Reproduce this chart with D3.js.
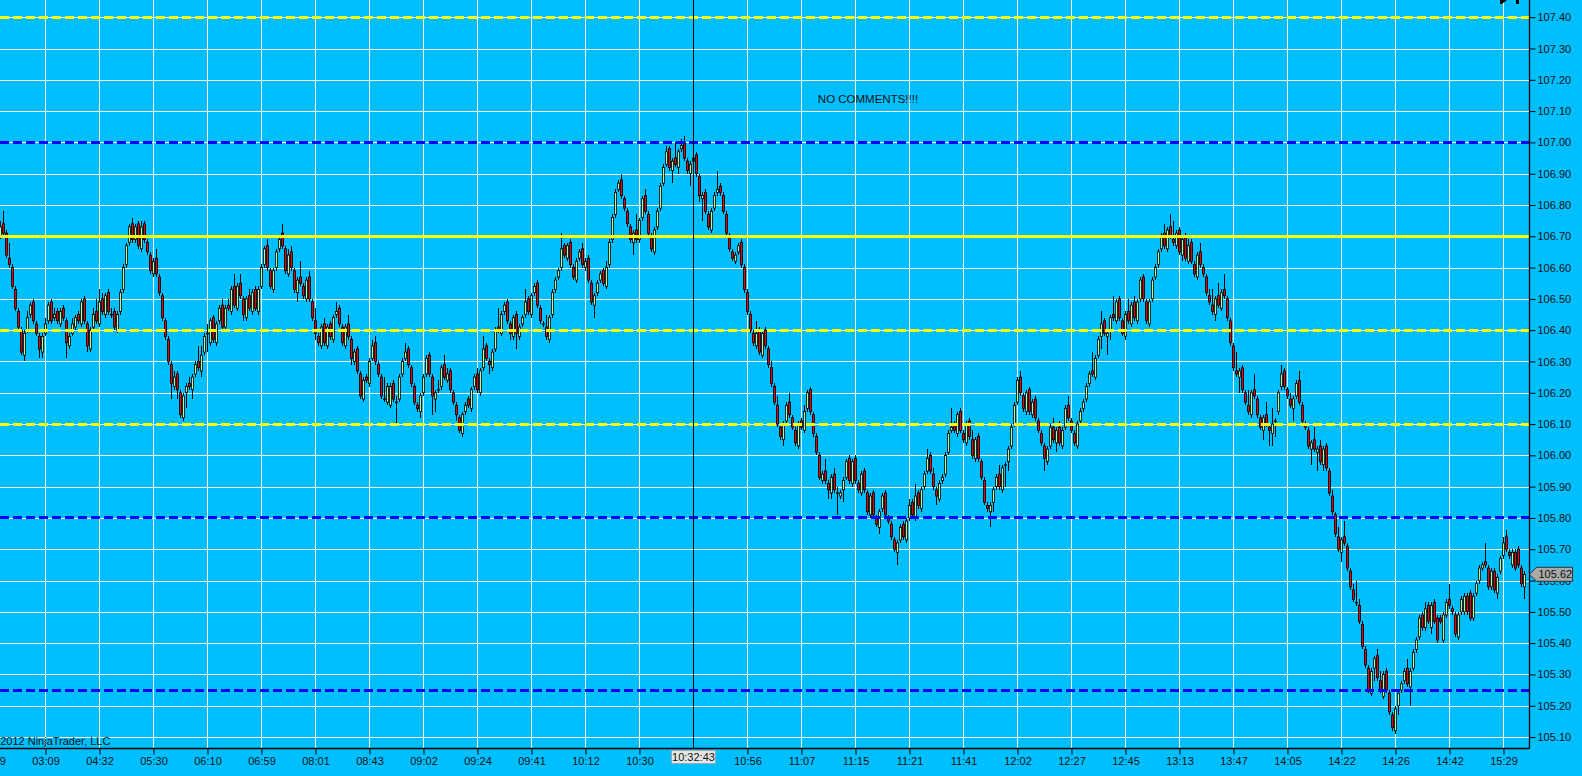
<!DOCTYPE html>
<html>
<head>
<meta charset="utf-8">
<script src="https://cdn.jsdelivr.net/npm/d3@7"></script>
<style>
  html, body { margin: 0; padding: 0; background: #00bfff; overflow: hidden; }
  svg { display: block; }
  text { font-family: Arial, "Liberation Sans", sans-serif; }
</style>
</head>
<body>
<svg id="chart" width="1582" height="776"></svg>
<script>
// bar values, in cents above 105.00 (one bar every 3px)
const openC = [
  170,174,171,163,160,153,146,140,132,140, 145,149,142,138,133,139,143,149,144,146,
  142,147,143,135,139,141,145,142,150,142, 134,141,146,142,150,145,152,145,146,140,
  146,153,161,168,174,169,174,166,174,168, 164,158,163,157,151,143,137,129,122,126,
  120,112,120,123,121,126,130,127,133,139, 136,144,136,143,148,141,148,146,154,147,
  155,150,144,151,146,153,146,154,161,167, 159,153,160,166,171,166,158,165,159,152,
  157,154,150,157,149,143,138,135,142,135, 142,137,145,147,141,135,142,137,130,134,
  126,118,125,123,131,136,129,125,118,117, 116,123,117,118,126,131,134,128,122,116,
  114,120,126,132,125,118,121,122,129,124, 127,120,116,112,107,114,118,115,122,126,
  120,128,135,130,128,134,141,139,146,149, 142,138,145,138,142,145,150,145,152,155,
  147,142,141,137,145,153,157,160,167,163, 168,160,156,163,166,160,163,155,148,152,
  156,159,154,161,169,177,185,188,182,178, 173,168,172,169,176,183,177,170,165,173,
  179,187,193,198,191,195,192,198,200,194, 190,194,196,189,182,184,177,172,179,184,
  186,183,177,170,165,162,165,168,160,152, 145,139,135,140,132,140,134,128,122,116,
  109,105,111,117,112,108,103,111,108,115, 121,113,106,100,92,95,91,88,94,88,
  87,89,93,99,91,99,91,88,95,88, 81,88,80,77,83,88,80,78,73,69,
  73,78,73,80,85,80,88,83,90,95, 100,94,89,86,92,94,101,108,110,107,
  114,107,104,111,105,99,106,98,92,84, 82,85,90,94,89,97,98,103,110,117,
  125,119,114,121,113,118,111,107,103,98, 103,109,104,109,103,109,116,111,107,103,
  111,115,118,123,127,125,132,138,143,138, 140,145,143,150,143,138,146,142,149,143,
  150,157,149,142,150,157,161,166,171,166, 173,169,167,172,164,170,162,168,161,157,
  165,160,157,151,148,145,151,147,153,150, 143,135,127,125,128,120,116,113,121,118,
  112,108,113,109,107,111,114,122,127,121, 118,115,119,124,116,110,108,102,105,101,
  103,97,103,95,87,81,74,69,74,71, 63,57,53,52,46,38,32,24,32,36,
  28,23,31,24,17,12,20,25,28,32, 26,32,38,42,49,45,52,45,53,48,
  48,41,49,54,51,49,42,50,50,55, 56,48,56,60,64,66,64,58,63,56,
  63,68,74,69,65,69,70,64,58
];
const closeC = [
  173,171,164,161,154,147,141,133,139,144, 148,143,139,134,138,142,148,143,145,143,
  146,144,136,138,142,144,143,149,143,135, 140,145,143,149,146,151,146,145,141,145,
  152,160,167,173,169,173,167,173,169,165, 159,162,158,152,144,138,130,123,125,121,
  113,119,122,122,125,129,128,132,138,139, 143,137,142,147,141,147,147,153,148,154,
  151,145,150,147,152,147,153,160,166,160, 154,159,165,169,167,159,164,160,153,156,
  155,151,156,150,144,139,136,141,136,141, 138,144,146,142,136,141,138,131,133,127,
  119,124,124,130,135,130,126,119,118,122, 122,118,117,125,130,133,129,123,117,115,
  119,125,131,126,119,120,121,128,125,126, 121,117,113,108,113,116,116,121,125,121,
  127,134,131,129,133,140,140,145,148,143, 139,144,139,141,144,149,146,151,154,148,
  143,142,138,144,152,156,159,166,164,167, 161,157,162,165,161,162,156,149,151,155,
  158,155,160,168,176,184,187,183,179,174, 169,171,169,175,182,178,171,166,172,178,
  186,192,197,192,194,193,197,199,195,191, 193,195,190,183,183,178,173,178,183,185,
  184,178,171,166,163,164,167,161,153,146, 140,136,139,133,139,135,129,123,117,110,
  106,110,116,113,109,104,110,109,114,120, 114,107,101,93,94,92,89,93,89,88,
  88,92,98,92,98,92,89,94,89,82, 87,81,78,82,87,81,79,74,70,72,
  77,74,79,84,81,87,84,89,94,99, 95,90,87,91,93,100,107,109,108,113,
  108,105,110,106,100,105,99,93,85,83, 84,89,93,90,96,97,102,109,116,124,
  120,115,120,114,117,112,108,104,99,102, 109,105,108,104,108,115,112,108,104,110,
  114,117,122,126,126,131,137,142,139,139, 144,144,149,144,139,145,143,148,144,149,
  156,150,143,149,156,160,165,170,167,172, 170,168,171,165,169,163,167,162,158,164,
  161,158,152,149,146,150,148,152,151,144, 136,128,126,127,121,117,114,120,119,113,
  109,112,110,108,110,111,120,126,122,119, 116,118,123,117,111,109,103,104,102,102,
  98,102,96,88,82,75,70,73,72,64, 58,54,53,47,39,33,25,31,35,29,
  25,30,25,18,13,19,24,27,31,27, 31,37,41,48,45,51,47,52,47,41,
  47,49,53,52,50,43,49,54,55,50, 48,55,59,64,65,65,58,63,57,61,
  67,72,70,68,69,64,65,59,62
];
// wick length above / below the body, in cents
const wickHi = [
  2,4,1,5,1,1,1,1,1,2, 1,1,1,1,1,2,1,1,2,1, 1,1,1,1,2,1,1,1,1,1, 1,2,4,4,2,1,1,2,1,1,
  1,1,1,1,2,1,1,2,1,1, 1,1,3,1,1,1,1,1,2,1, 1,1,1,2,1,1,5,3,1,3, 1,1,1,1,2,1,2,1,4,1,
  3,1,1,2,1,1,1,1,1,2, 1,1,1,1,3,1,2,2,1,1, 5,1,1,2,1,4,1,1,2,1, 1,1,3,1,1,1,3,1,1,1,
  1,1,1,1,2,2,1,1,7,1, 1,1,2,1,1,3,1,1,1,1, 1,1,1,1,1,1,3,1,3,2, 1,1,1,1,1,1,1,1,1,2,
  1,4,1,1,1,1,6,1,1,1, 1,1,1,1,1,4,1,1,1,1, 1,1,4,1,1,1,1,5,1,1, 1,1,1,1,2,1,1,1,1,1,
  1,1,2,1,1,1,1,2,1,1, 1,1,5,1,1,2,1,1,1,1, 1,1,2,1,1,5,1,2,2,1, 1,1,1,1,1,1,1,1,1,6,
  1,1,1,1,1,1,1,1,1,1, 1,1,4,1,1,1,1,2,1,3, 1,1,1,3,1,1,1,1,2,1, 1,1,1,1,1,4,1,1,2,2,
  1,1,1,1,1,1,1,1,1,1, 1,1,1,1,1,1,1,1,1,1, 1,1,1,2,1,4,1,1,1,3, 1,2,1,1,1,1,1,6,1,1,
  1,1,1,1,3,1,1,1,1,1, 1,1,1,3,1,1,1,1,1,1, 2,1,1,1,1,1,1,1,1,1, 1,3,1,2,1,1,3,1,1,1,
  1,1,1,1,6,1,1,4,1,1, 1,6,1,1,1,1,4,1,2,1, 1,1,1,1,1,1,1,1,3,1, 4,6,1,1,1,1,2,1,1,1,
  3,1,1,2,5,1,4,1,5,1, 1,1,6,1,1,1,5,1,5,1, 1,1,4,1,5,1,1,3,1,1, 2,1,1,3,1,1,1,1,4,1,
  2,1,1,1,2,1,3,1,5,1, 1,2,7,2,1,1,1,1,1,2, 3,1,1,1,1,1,1,1,1,3, 1,1,1,1,1,2,1,1,1,1,
  1,1,1,5,1,1,1,1,1,1, 1,1,1,1,1,6,1,1,1,1, 1,2,2,1,1,1,1,1,1
];
const wickLo = [
  1,1,1,1,1,1,1,1,2,1, 1,1,1,3,2,1,1,1,1,1, 1,1,5,1,1,1,1,1,1,2, 1,1,1,1,1,1,1,1,1,1,
  1,1,1,1,1,1,1,1,1,1, 1,1,1,1,1,1,1,5,1,3, 1,1,5,1,3,1,1,2,1,6, 1,1,1,1,1,1,1,1,1,1,
  1,2,1,1,1,1,1,1,1,1, 1,1,1,1,1,1,1,1,1,3, 1,1,1,1,1,2,1,1,1,1, 1,1,1,1,1,1,1,2,1,1,
  1,1,1,1,1,1,1,1,1,1, 1,1,7,1,1,1,1,1,1,1, 2,1,1,1,6,4,1,1,1,1, 1,1,2,1,1,1,1,1,1,1,
  1,1,1,3,1,1,1,1,1,1, 2,1,5,1,1,1,1,1,1,1, 1,1,1,1,1,1,1,1,1,1, 1,1,1,1,1,1,1,1,4,1,
  1,1,1,1,1,1,1,1,1,1, 1,4,1,1,1,1,1,1,1,1, 1,1,1,1,4,1,2,1,1,1, 4,1,1,2,7,1,1,1,1,1,
  1,1,1,1,1,1,1,1,1,1, 1,1,1,1,1,1,1,1,1,1, 1,2,1,1,1,1,1,1,1,1, 1,1,1,1,1,1,3,2,1,7,
  1,4,1,1,1,1,1,1,1,1, 1,1,1,2,1,1,1,1,1,4, 1,1,1,1,1,1,1,1,1,1, 1,1,3,1,1,1,1,1,1,1,
  1,1,1,1,1,1,1,1,1,1, 5,3,1,1,1,7,3,1,1,1, 1,1,1,1,1,1,1,1,4,1, 1,1,3,1,1,1,1,1,1,1,
  1,1,1,1,1,1,1,4,1,6, 3,1,1,1,1,1,1,1,1,1, 1,1,1,1,1,1,1,1,1,1, 1,1,1,1,2,1,1,1,1,1,
  1,1,1,1,1,2,1,1,1,1, 1,1,1,5,1,1,1,1,1,1, 1,3,1,5,4,5,1,1,1,1, 1,4,1,1,1,1,1,5,1,6,
  1,2,1,1,1,1,1,3,1,1, 1,1,1,1,1,1,1,1,4,1, 1,1,1,1,1,1,3,1,1,1, 6,1,1,1,1,1,1,2,1,1,
  1,1,1,1,1,1,1,1,1,1, 1,1,1,1,1,1,1,1,1,2, 1,1,1,1,1,1,1,1,4
];

const timeLabels = ["01:49","03:09","04:32","05:30","06:10","06:59","08:01","08:43","09:02","09:24",
  "09:41","10:12","10:30","10:56","11:07","11:15","11:21","11:41","12:02","12:27",
  "12:45","13:13","13:47","14:05","14:22","14:26","14:42","15:29"];
const timeLabelBars = [-3,15,33,51,69,87,105,123,141,159,177,195,213,249,267,285,303,321,339,357,
  375,393,411,429,447,465,483,501];
const gridBars = [15,33,51,69,87,105,123,141,159,177,195,213,231,249,267,285,303,321,339,357,
  375,393,411,429,447,465,483,501];

const priceTicks = [105.10,105.20,105.30,105.40,105.50,105.60,105.70,105.80,105.90,106.00,
  106.10,106.20,106.30,106.40,106.50,106.60,106.70,106.80,106.90,107.00,107.10,107.20,107.30,107.40];

const yellowDashLevels = [107.40, 106.40, 106.10];
const blueDashLevels = [107.00, 105.80, 105.25];
const yellowSolidLevels = [106.70];

const lastPrice = 105.62;
const crosshairBar = 231;
const crosshairLabel = "10:32:43";
const note = "NO COMMENTS!!!!";
const copyright = "\u00a9 2012 NinjaTrader, LLC";

const bars = closeC.map((c, i) => {
  const o = openC[i];
  return {
    i: i,
    open: 105 + o / 100,
    close: 105 + c / 100,
    high: 105 + (Math.max(o, c) + wickHi[i]) / 100,
    low: 105 + (Math.min(o, c) - wickLo[i]) / 100
  };
});

const svg = d3.select("#chart");
const W = 1582, H = 776;
const plotRight = 1529.5, plotBottom = 748.5;

const x = d3.scaleLinear().domain([0, 1]).range([0.5, 3.5]);
const y = d3.scaleLinear().domain([105.065, 107.455]).range([748, 0]);

svg.append("rect").attr("width", W).attr("height", H).attr("fill", "#00bfff");

// grid
const grid = svg.append("g").attr("stroke", "#ffffff").attr("stroke-width", 1)
  .attr("shape-rendering", "crispEdges");
grid.selectAll(".hg").data(priceTicks).enter().append("line")
  .attr("x1", 0).attr("x2", plotRight)
  .attr("y1", d => Math.round(y(d)) + 0.5).attr("y2", d => Math.round(y(d)) + 0.5);
grid.selectAll(".vg").data(gridBars).enter().append("line")
  .attr("x1", d => x(d)).attr("x2", d => x(d))
  .attr("y1", 0).attr("y2", plotBottom);

// candles
const candles = svg.append("g");
candles.selectAll(".wick").data(bars).enter().append("line")
  .attr("x1", d => x(d.i)).attr("x2", d => x(d.i))
  .attr("y1", d => y(d.high)).attr("y2", d => y(d.low))
  .attr("stroke", "#000").attr("stroke-width", 1).attr("shape-rendering", "crispEdges");
candles.selectAll(".body").data(bars).enter().append("rect")
  .attr("x", d => x(d.i) - 1.1)
  .attr("width", 2.2)
  .attr("y", d => y(Math.max(d.open, d.close)))
  .attr("height", d => Math.max(Math.abs(y(d.open) - y(d.close)), 0.6))
  .attr("fill", d => d.close >= d.open ? "#b4f7a4" : "#ee0000")
  .attr("stroke", "#000").attr("stroke-width", 0.8);

// horizontal levels
const levels = svg.append("g").attr("shape-rendering", "crispEdges");
levels.selectAll(".yd").data(yellowDashLevels).enter().append("line")
  .attr("x1", 0).attr("x2", plotRight)
  .attr("y1", d => y(d)).attr("y2", d => y(d))
  .attr("stroke", "#ffff00").attr("stroke-width", 3).attr("stroke-dasharray", "9,4");
levels.selectAll(".bd").data(blueDashLevels).enter().append("line")
  .attr("x1", 0).attr("x2", plotRight)
  .attr("y1", d => y(d)).attr("y2", d => y(d))
  .attr("stroke", "#0000ff").attr("stroke-width", 3).attr("stroke-dasharray", "9,4");
levels.selectAll(".ys").data(yellowSolidLevels).enter().append("line")
  .attr("x1", 0).attr("x2", plotRight)
  .attr("y1", d => y(d)).attr("y2", d => y(d))
  .attr("stroke", "#ffff00").attr("stroke-width", 3);

// crosshair
svg.append("line")
  .attr("x1", x(crosshairBar)).attr("x2", x(crosshairBar))
  .attr("y1", 0).attr("y2", plotBottom)
  .attr("stroke", "#000").attr("stroke-width", 1).attr("shape-rendering", "crispEdges");

// axes
const xAxis = svg.append("g")
  .attr("transform", `translate(0,${plotBottom})`)
  .call(d3.axisBottom(x).tickValues(timeLabelBars).tickFormat((d, i) => timeLabels[i]).tickSize(6).tickSizeOuter(0));
xAxis.select(".domain").remove();
xAxis.selectAll("text").attr("font-size", 11).attr("fill", "#111").attr("dy", "0.77em").attr("y", 8);
xAxis.selectAll("line").attr("stroke", "#000");

svg.append("line").attr("x1", 0).attr("x2", plotRight).attr("y1", plotBottom).attr("y2", plotBottom)
  .attr("stroke", "#000").attr("stroke-width", 1.3);

const yAxis = svg.append("g")
  .attr("transform", `translate(${plotRight},0)`)
  .call(d3.axisRight(y).tickValues(priceTicks).tickFormat(d3.format(".2f")).tickSize(6).tickSizeOuter(0));
yAxis.select(".domain").remove();
yAxis.selectAll("text").attr("font-size", 11).attr("fill", "#111").attr("x", 8);
yAxis.selectAll("line").attr("stroke", "#000");
svg.append("line").attr("x1", plotRight).attr("x2", plotRight).attr("y1", 0).attr("y2", plotBottom)
  .attr("stroke", "#000").attr("stroke-width", 1.3);

// crosshair time label
const chx = x(crosshairBar);
svg.append("rect").attr("x", chx - 22).attr("y", plotBottom + 2).attr("width", 44).attr("height", 13)
  .attr("fill", "#e6e6e6").attr("stroke", "#9a9a9a").attr("stroke-width", 0.6);
svg.append("text").attr("x", chx).attr("y", plotBottom + 12.5).attr("text-anchor", "middle")
  .attr("font-size", 11).attr("fill", "#111").text(crosshairLabel);

// last price marker
const ly = y(lastPrice);
svg.append("path")
  .attr("d", `M${plotRight},${ly} L${plotRight + 7},${ly - 7} L${plotRight + 43},${ly - 7} L${plotRight + 43},${ly + 7} L${plotRight + 7},${ly + 7} Z`)
  .attr("fill", "#a9a9a9").attr("stroke", "#303030").attr("stroke-width", 1);
svg.append("text").attr("x", plotRight + 9).attr("y", ly + 4).attr("font-size", 11).attr("fill", "#111")
  .text(d3.format(".2f")(lastPrice));

// note and copyright
svg.append("text").attr("x", 868).attr("y", 103).attr("text-anchor", "middle")
  .attr("font-size", 11.5).attr("fill", "#111").text(note);
svg.append("text").attr("x", -11).attr("y", 745).attr("font-size", 11).attr("fill", "#111").text(copyright);

// little toolbar glyph at top right
svg.append("path").attr("d", "M1500,0 L1507,0 L1502,4 L1500,4 Z").attr("fill", "#000");
svg.append("rect").attr("x", 1516).attr("y", 0).attr("width", 3).attr("height", 4).attr("fill", "#000");
</script>
</body>
</html>
